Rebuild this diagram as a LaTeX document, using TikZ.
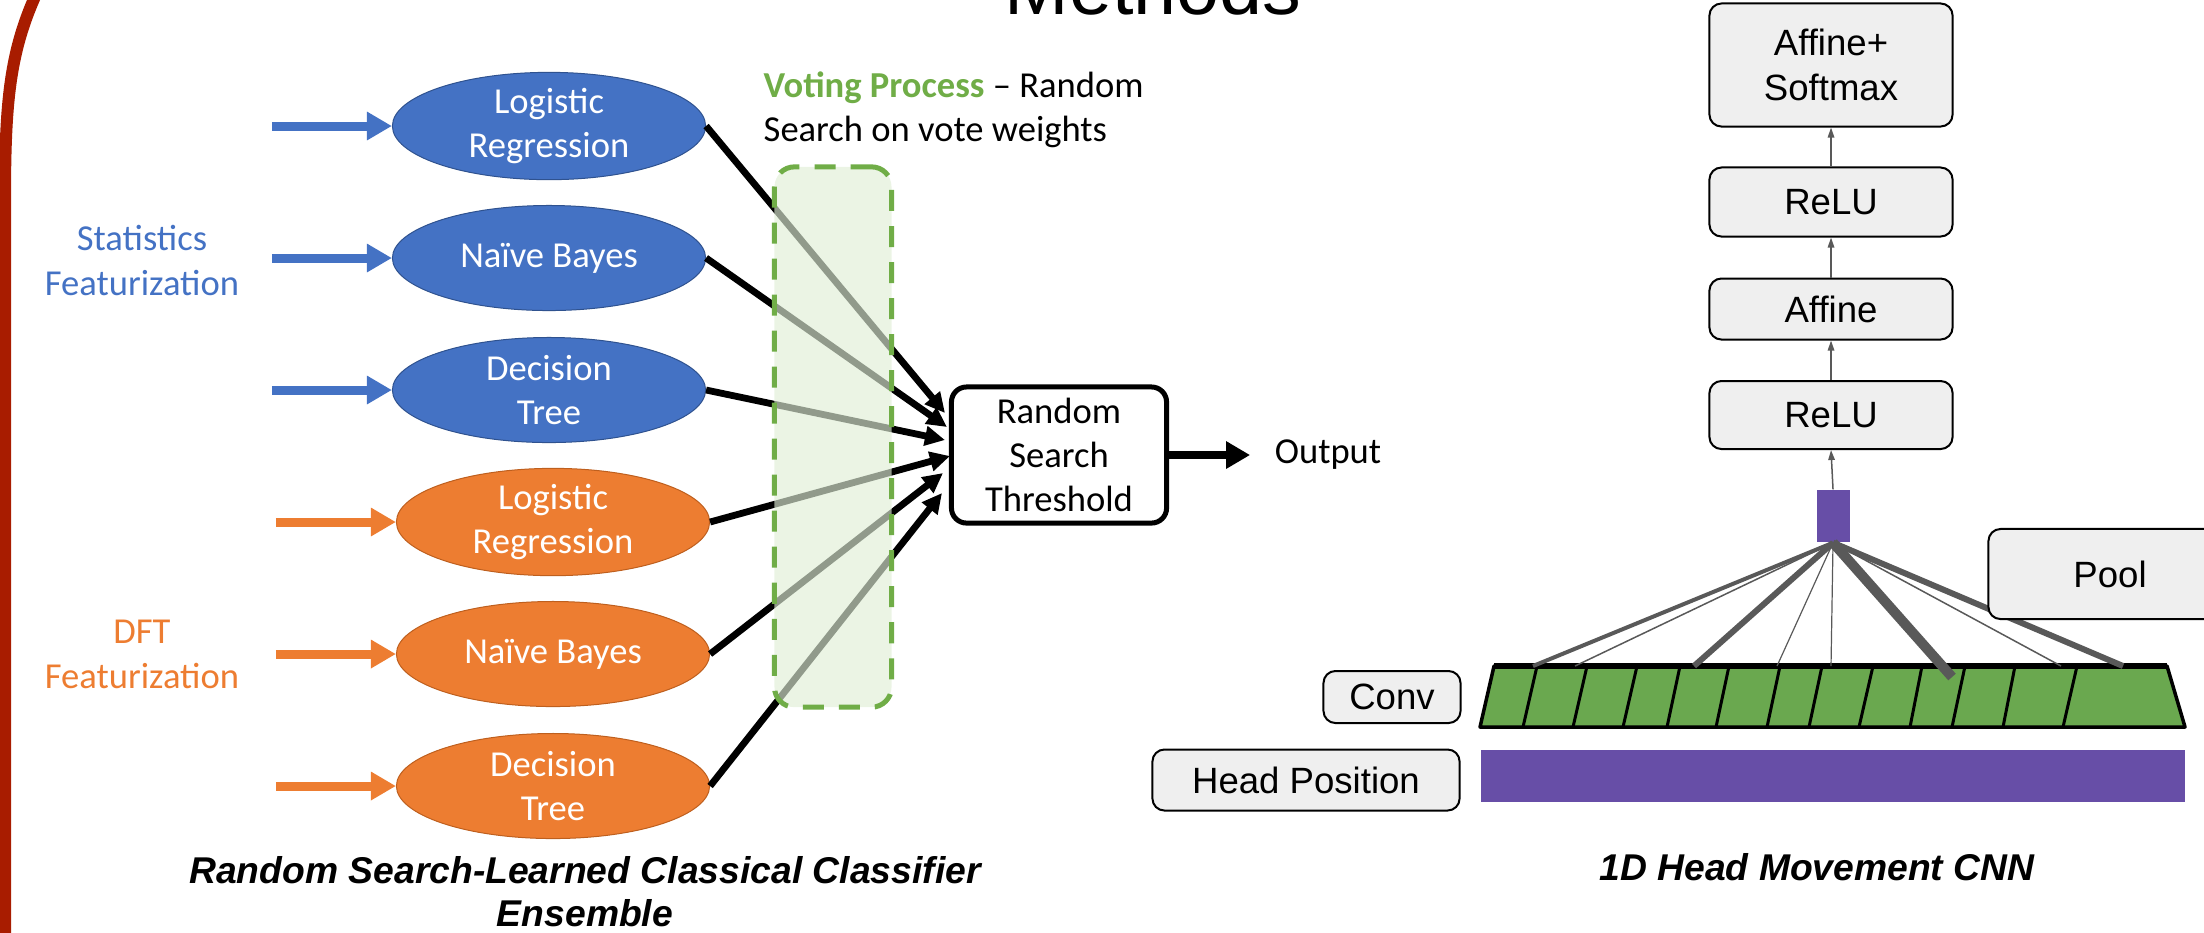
\documentclass[tikz,border=0pt]{standalone}
\usepackage{fontspec}
\setmainfont{Carlito}
\newfontfamily\arialfont{Liberation Sans}
\usetikzlibrary{shapes.geometric,arrows.meta}

\definecolor{slidered}{RGB}{168,28,0}
\definecolor{clfblue}{RGB}{68,114,196}
\definecolor{clfblueedge}{RGB}{47,82,143}
\definecolor{clforange}{RGB}{237,125,49}
\definecolor{clforangeedge}{RGB}{190,95,30}
\definecolor{votegreen}{RGB}{112,173,71}
\definecolor{votefill}{RGB}{224,238,214}
\definecolor{convgreen}{RGB}{106,168,79}
\definecolor{cnnpurple}{RGB}{103,78,167}
\definecolor{layergrey}{RGB}{239,239,239}
\definecolor{fangrey}{RGB}{89,89,89}

\newcommand{\clftxt}{\fontsize{10.4}{12.6}\selectfont}
\newcommand{\layertxt}{\arialfont\fontsize{10.4}{12.8}\selectfont}

\begin{document}
\begin{tikzpicture}[x=0.01cm,y=-0.01cm,
	clf_node/.style={ellipse,draw,line width=0.01cm,minimum width=3.13cm,minimum height=1.05cm,inner sep=0pt,text=white,align=center,font=\clftxt},
	blue_clf/.style={clf_node,fill=clfblue,draw=clfblueedge},
	orange_clf/.style={clf_node,fill=clforange,draw=clforangeedge},
	in_arrow/.style={line width=0.09cm,-{Triangle[length=0.25cm,width=0.27cm]}},
	vote_arrow/.style={line width=0.068cm,-{Triangle[length=0.2cm,width=0.19cm]}},
	layer_box/.style={draw,line width=0.02cm,rounded corners=0.12cm,fill=layergrey,minimum width=2.43cm,inner sep=0pt,align=center,font=\layertxt},
	layer_arrow/.style={draw=fangrey,line width=0.015cm,-{Triangle[length=0.1cm,width=0.065cm]}},
	fan_line/.style={draw=fangrey},
	caption_text/.style={font=\arialfont\bfseries\itshape\fontsize{10.6}{12.2}\selectfont,align=center,inner sep=0pt}]
	\useasboundingbox (0,0) rectangle (2204,932);
	\clip (0,0) rectangle (2204,932);

	% slide border and title
	\draw[slidered,line width=0.12cm] (38,-10) .. controls (10,50) and (5,100) .. (5,200) -- (5,950);
	\node[font=\arialfont\fontsize{22}{26}\selectfont,anchor=base,inner sep=0pt] (title) at (1153,14) {Methods};

	% classical ensemble
	\node[text=clfblue,align=center,font=\fontsize{10.4}{12.8}\selectfont,inner sep=0pt] (stat) at (142,260) {Statistics\\Featurization};
	\node[text=clforange,align=center,font=\fontsize{10.4}{12.8}\selectfont,inner sep=0pt] (dft) at (142,654) {DFT\\Featurization};

	\node[blue_clf] (b1) at (549,126) {Logistic\\Regression};
	\node[blue_clf] (b2) at (549,258) {Naïve Bayes};
	\node[blue_clf] (b3) at (549,390) {Decision\\Tree};
	\node[orange_clf] (o1) at (553,522) {Logistic\\Regression};
	\node[orange_clf] (o2) at (553,654) {Naïve Bayes};
	\node[orange_clf] (o3) at (553,786) {Decision\\Tree};

	\foreach \n in {b1,b2,b3}
		\draw[in_arrow,clfblue] ([xshift=-1.2cm]\n.west) -- (\n.west);
	\foreach \n in {o1,o2,o3}
		\draw[in_arrow,clforange] ([xshift=-1.2cm]\n.west) -- (\n.west);

	\node[draw,line width=0.05cm,rounded corners=0.15cm,minimum width=2.15cm,minimum height=1.36cm,inner sep=0pt,align=center,font=\clftxt] (thr) at (1059,455) {Random\\Search\\Threshold};

	\coordinate (t1) at (945,413);
	\coordinate (t2) at (947,427);
	\coordinate (t3) at (945,440);
	\coordinate (t4) at (950,456);
	\coordinate (t5) at (943,473);
	\coordinate (t6) at (942,493);
	\foreach \n/\t in {b1/t1,b2/t2,b3/t3,o1/t4,o2/t5,o3/t6}
		\draw[vote_arrow] (\n.east) -- (\t);

	% weights box sits over the votes
	\node[draw=votegreen,line width=0.05cm,dash pattern=on 0.21cm off 0.15cm,rounded corners=0.2cm,fill=votefill,fill opacity=0.65,minimum width=1.17cm,minimum height=5.4cm] (vote) at (833,437) {};
	\node[anchor=north west,align=left,inner sep=0pt,font=\clftxt] (votetxt) at (763,71) {\textcolor{votegreen}{\bfseries Voting Process} – Random\\Search on vote weights};

	\node[inner sep=0pt,inner xsep=0.24cm,font=\clftxt] (out) at (1328,455) {Output};
	\draw[line width=0.08cm,-{Triangle[length=0.24cm,width=0.26cm]}] (thr.east) -- (out.west);

	\node[caption_text,anchor=north] (cap1) at (585,856) {Random Search-Learned Classical Classifier\\Ensemble};

	% 1D CNN
	\node[fill=cnnpurple,minimum width=7.03cm,minimum height=0.52cm,inner sep=0pt] (hbar) at (1833,776) {};
	\draw[fill=convgreen,line width=0.035cm,line join=round] (1494,666) -- (2167,666) -- (2185,727) -- (1480,727) -- cycle;
	\draw[line width=0.055cm] (1494,666) -- (2167,666);
	\foreach \a/\b in {1537/1523,1587/1573,1637/1623,1680/1667,1729/1716,1780/1767,1822/1809,1873/1859,1922/1910,1965/1952,2015/2003,2077/2063}
		\draw[line width=0.03cm] (\a,666) -- (\b,727);

	\node[fill=cnnpurple,minimum width=0.33cm,minimum height=0.52cm,inner sep=0pt] (pooled) at (1833,516) {};
	\foreach \x/\w/\y [count=\i] in {1533/0.04/666,1575/0.015/666,1694/0.06/666,1777/0.012/666,1831/0.012/666,1952/0.1/677,2061/0.015/666,2123/0.06/666}{
		\coordinate (f\i) at (\x,\y);
		\draw[fan_line,line width=\w cm] (pooled.south) -- (f\i);
	}

	\node[layer_box,minimum height=1.23cm] (soft) at (1831,65) {Affine+\\Softmax};
	\node[layer_box,minimum height=0.69cm] (relu2) at (1831,202) {ReLU};
	\node[layer_box,minimum height=0.61cm] (aff) at (1831,309) {Affine};
	\node[layer_box,minimum height=0.68cm] (relu1) at (1831,415) {ReLU};
	\node[layer_box,minimum height=0.9cm] (pool) at (2110,574) {Pool};
	\node[layer_box,minimum width=1.37cm,minimum height=0.52cm] (conv) at (1392,697) {Conv};
	\node[layer_box,minimum width=3.07cm,minimum height=0.61cm] (head) at (1306,780) {Head Position};

	\draw[layer_arrow] (pooled.north) -- (relu1.south);
	\draw[layer_arrow] (relu1.north) -- (aff.south);
	\draw[layer_arrow] (aff.north) -- (relu2.south);
	\draw[layer_arrow] (relu2.north) -- (soft.south);

	\node[caption_text,anchor=base] (cap2) at (1817,880) {1D Head Movement CNN};
\end{tikzpicture}
\end{document}
